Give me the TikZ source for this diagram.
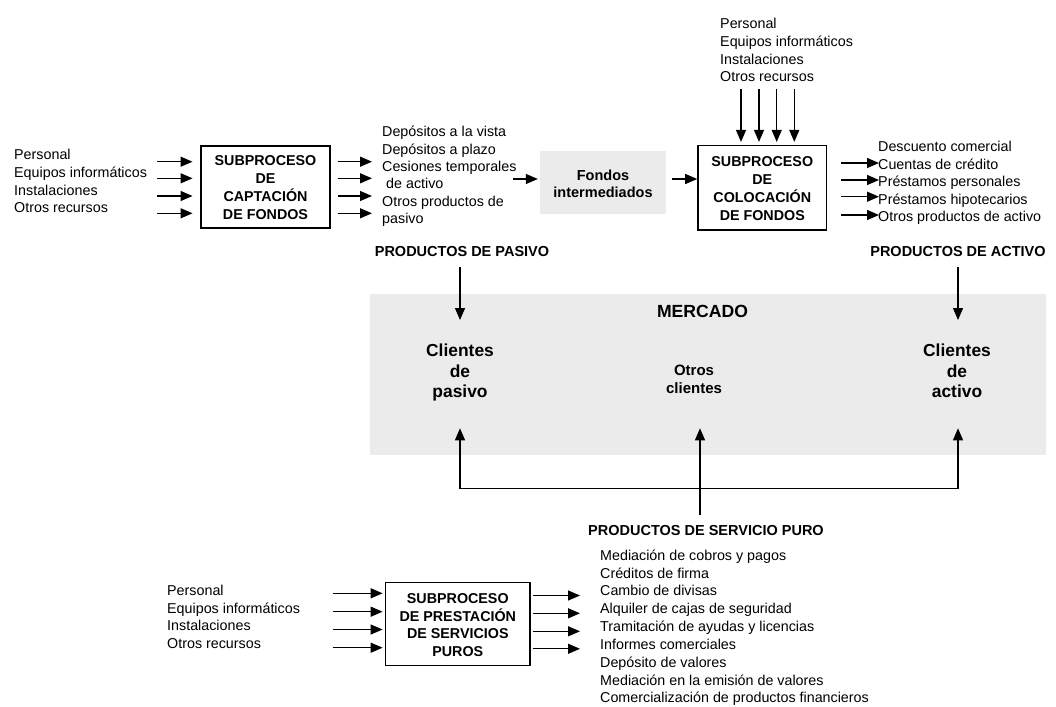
\documentclass[tikz,border=0pt]{standalone}
\usepackage{fontspec}
\setmainfont{Liberation Sans}
\usetikzlibrary{arrows.meta}
\definecolor{mktgray}{RGB}{235,235,235}

\begin{document}
\begin{tikzpicture}[x=1pt,y=-1pt,
  bigtri/.tip={Triangle[length=12pt,width=10pt]},
  line/.style={line width=1.3pt},
  arr/.style={line,-bigtri},
  procbox/.style={draw,line width=1.5pt,inner sep=0pt,align=center,
    font=\fontsize{14.3}{17.8}\selectfont\bfseries},
  graybox/.style={fill=mktgray,inner sep=0pt},
  listtxt/.style={anchor=north west,inner sep=0pt,align=left},
  heading/.style={anchor=base,inner sep=0pt,font=\fontsize{14.5}{17.4}\selectfont\bfseries},
  client/.style={anchor=north,inner sep=0pt,align=center,
    font=\fontsize{17.4}{20.5}\selectfont\bfseries}]
\useasboundingbox (0,0) rectangle (1056,706);

% ---- market area ----
\node[graybox,anchor=north west,minimum width=676pt,minimum height=161pt] (mercado) at (370,293.5) {};
\node[anchor=base,inner sep=0pt,font=\fontsize{17.6}{20}\selectfont\bfseries] (mtitle) at (702.5,317.3) {MERCADO};
\node[client] (clpas) at (460,342.35) {\strut Clientes\\de\\pasivo\strut};
\node[client] (clact) at (957,342.35) {\strut Clientes\\de\\activo\strut};
\node[client,font=\fontsize{15}{18.3}\selectfont\bfseries] (clotr) at (694,362.2) {\strut Otros\\clientes\strut};

% ---- process boxes ----
\node[procbox,minimum width=129pt,minimum height=82pt] (boxA) at (265.5,187)
  {\rule{0pt}{16.7pt}SUBPROCESO\\DE\\CAPTACIÓN\\DE FONDOS\strut};
\node[procbox,minimum width=128.7pt,minimum height=84.3pt] (boxB) at (762.3,187.8)
  {\rule{0pt}{16.7pt}SUBPROCESO\\DE\\COLOCACIÓN\\DE FONDOS\strut};
\node[procbox,minimum width=144.3pt,minimum height=83pt] (boxC) at (457.8,624.2)
  {\rule{0pt}{16.8pt}SUBPROCESO\\DE PRESTACIÓN\\DE SERVICIOS\\PUROS\strut};
\node[graybox,align=center,minimum width=126pt,minimum height=63.3pt,
  font=\fontsize{14.5}{17.3}\selectfont\bfseries] (fondos) at (603,182.3)
  {\rule{0pt}{17.9pt}Fondos\\intermediados\strut};

% ---- resource and product lists ----
\node[listtxt,font=\fontsize{14.3}{17.7}\selectfont] (recA) at (14,147.1)
  {\strut Personal\\Equipos informáticos\\Instalaciones\\Otros recursos\strut};
\node[listtxt,font=\fontsize{14.3}{17.3}\selectfont] (pasivos) at (382,124.6)
  {\strut Depósitos a la vista\\Depósitos a plazo\\Cesiones temporales\\\hspace*{4pt}de activo\\Otros productos de\\pasivo\strut};
\node[listtxt,font=\fontsize{14.3}{17.8}\selectfont] (recB) at (720,15.8)
  {\strut Personal\\Equipos informáticos\\Instalaciones\\Otros recursos\strut};
\node[listtxt,font=\fontsize{14.3}{17.5}\selectfont] (activos) at (878,139.4)
  {\strut Descuento comercial\\Cuentas de crédito\\Préstamos personales\\Préstamos hipotecarios\\Otros productos de activo\strut};
\node[listtxt,font=\fontsize{14.3}{17.5}\selectfont] (recC) at (167,583.4)
  {\strut Personal\\Equipos informáticos\\Instalaciones\\Otros recursos\strut};
\node[listtxt,font=\fontsize{14.3}{17.84}\selectfont] (servicios) at (600,547.5)
  {\strut Mediación de cobros y pagos\\Créditos de firma\\Cambio de divisas\\Alquiler de cajas de seguridad\\Tramitación de ayudas y licencias\\Informes comerciales\\Depósito de valores\\Mediación en la emisión de valores\\Comercialización de productos financieros\strut};

% ---- headings ----
\node[heading] (ppas) at (462,256) {PRODUCTOS DE PASIVO};
\node[heading] (pact) at (958,256) {PRODUCTOS DE ACTIVO};
\node[heading] (pserv) at (706,535) {PRODUCTOS DE SERVICIO PURO};

% ---- capture subprocess ----
\foreach \yy [count=\i] in {161.7,178.3,196,213.3} {
  \coordinate (ina\i) at (157,\yy);
  \draw[arr,shorten >=7.7pt] (ina\i) -- (ina\i -| boxA.west);
  \coordinate (outa\i) at (372,\yy);
  \draw[arr,shorten <=7pt] (outa\i -| boxA.east) -- (outa\i);
}
\coordinate (tofondos) at (512.7,179);
\draw[arr,shorten >=2pt] (tofondos) -- (tofondos -| fondos.west);
\draw[arr,shorten <=5.7pt] (tofondos -| fondos.east) -- (tofondos -| boxB.west);

% ---- placement subprocess ----
\foreach \xx [count=\i] in {741,759,776.7,794.3} {
  \coordinate (inb\i) at (\xx,89);
  \draw[arr,shorten >=3pt] (inb\i) -- (inb\i |- boxB.north);
}
\foreach \yy [count=\i] in {163,180,196.7,215} {
  \coordinate (outb\i) at (879,\yy);
  \draw[arr,shorten <=14pt] (outb\i -| boxB.east) -- (outb\i);
}

% ---- products into the market ----
\coordinate (tipp) at (460,320);
\coordinate (tipa) at (958,320);
\draw[arr,shorten <=10.7pt] (tipp |- ppas.south) -- (tipp);
\draw[arr,shorten <=10.7pt] (tipa |- pact.south) -- (tipa);

% ---- pure services into the market ----
\coordinate (upl) at (460,428.3);
\coordinate (upc) at (700,428.3);
\coordinate (upr) at (958,428.3);
\coordinate (jl) at (460,488.3);
\coordinate (jr) at (958,488.3);
\draw[line,bigtri-bigtri] (upl) -- (jl) -- (jr) -- (upr);
\draw[arr,shorten <=9.6pt] (upc |- pserv.north) -- (upc);

% ---- service subprocess ----
\foreach \yy [count=\i] in {593.3,611.7,629.5,647.7} {
  \coordinate (inc\i) at (332.7,\yy);
  \draw[arr,shorten >=2.3pt] (inc\i) -- (inc\i -| boxC.west);
}
\foreach \yy [count=\i] in {595.5,613.3,631.3,648.8} {
  \coordinate (outc\i) at (580,\yy);
  \draw[arr,shorten <=2pt] (outc\i -| boxC.east) -- (outc\i);
}
\end{tikzpicture}
\end{document}
